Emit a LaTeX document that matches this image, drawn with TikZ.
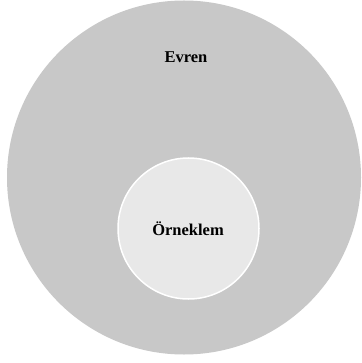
\documentclass[tikz,border=0pt]{standalone}
\usepackage{fontspec}
\setmainfont{Liberation Serif}
\definecolor{outergray}{HTML}{C8C8C8}
\definecolor{innergray}{HTML}{E8E8E8}
\tikzset{
  outer/.style={circle, fill=outergray, draw=none, minimum size=354pt, inner sep=0pt},
  inner/.style={circle, fill=innergray, draw=white, line width=1.5pt, minimum size=141pt, inner sep=0pt},
  lbl/.style={font=\fontsize{16.5}{19}\selectfont\bfseries, text=black}
}
\begin{document}
\begin{tikzpicture}[x=1pt,y=-1pt]
\useasboundingbox[fill=white] (0,0) rectangle (361,363);
\node[outer] (evren) at (184,177.5) {};
\node[inner] (orneklem) at (188.5,228.5) {};
\node[lbl] (evrenlbl) at (186,57) {Evren};
\node[lbl] (orneklemlbl) at (188,229) {Örneklem};
\end{tikzpicture}
\end{document}
